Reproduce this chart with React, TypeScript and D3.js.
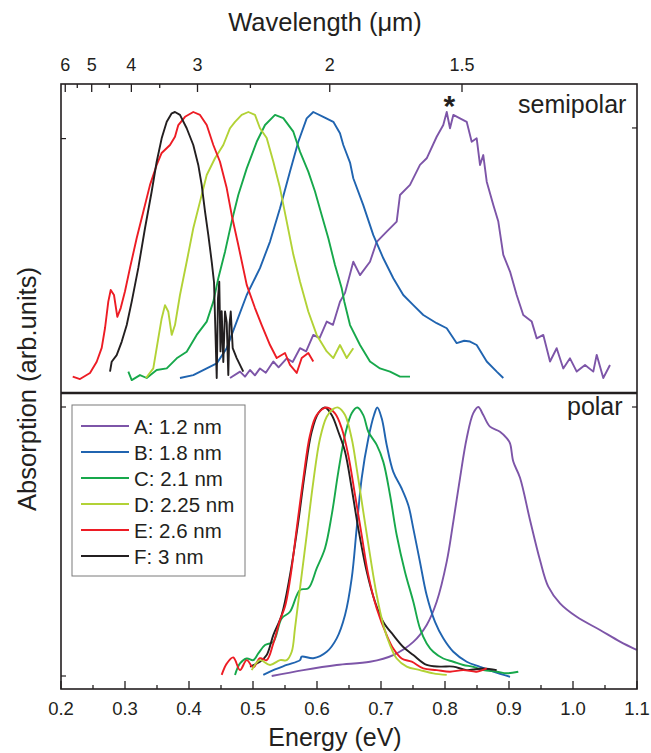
import React from "react";
import * as d3 from "d3";

// ---------- data ----------
const seriesNames = ["A: 1.2 nm", "B: 1.8 nm", "C: 2.1 nm", "D: 2.25 nm", "E: 2.6 nm", "F: 3 nm"];
const seriesColors = ["#7D55A8", "#2064B0", "#17A84B", "#B2D236", "#ED1C24", "#231F20"];

const energyTicks = [0.2, 0.3, 0.4, 0.5, 0.6, 0.7, 0.8, 0.9, 1.0, 1.1];
const energyMinorTicks = [0.25, 0.35, 0.45, 0.55, 0.65, 0.75, 0.85, 0.95, 1.05];
const wavelengthTicks = [6, 5, 4, 3, 2, 1.5];
const wavelengthMinorTicks = [5.5, 4.5, 3.5, 2.5];
const hcOverE = 1.23984; // eV·µm

// semipolar (top panel) [energy eV, normalized absorption]
const semiA: [number, number][] = [
  [0.4641, 0.0], [0.4797, 0.024], [0.4875, 0.005], [0.4953, 0.03], [0.503, 0.01], [0.5109, 0.036], [0.52, 0.02], [0.5317, 0.062],
  [0.54, 0.04], [0.5527, 0.074], [0.562, 0.06], [0.5734, 0.112], [0.583, 0.1], [0.5942, 0.162], [0.604, 0.15],
  [0.6152, 0.212], [0.625, 0.2], [0.6359, 0.287], [0.6438, 0.32], [0.6567, 0.437], [0.6672, 0.387],
  [0.6828, 0.437], [0.6933, 0.512], [0.7089, 0.55], [0.7245, 0.588], [0.7297, 0.688], [0.7453, 0.726],
  [0.7609, 0.801], [0.7714, 0.826], [0.787, 0.907], [0.7973, 0.951], [0.8027, 1.0], [0.8078, 0.939],
  [0.813, 0.989], [0.8234, 0.976], [0.8339, 0.963], [0.8417, 0.888], [0.8495, 0.901], [0.8547, 0.801],
  [0.8598, 0.838], [0.8652, 0.738], [0.8755, 0.65], [0.8833, 0.588], [0.8911, 0.463], [0.9016, 0.4],
  [0.912, 0.312], [0.9223, 0.237], [0.9355, 0.212], [0.9433, 0.149], [0.9536, 0.162], [0.9641, 0.062],
  [0.9745, 0.112], [0.9848, 0.036], [0.9953, 0.074], [1.0058, 0.024], [1.0188, 0.049], [1.0317, 0.024],
  [1.037, 0.087], [1.0473, 0.0], [1.0578, 0.049],
];
const semiB: [number, number][] = [
  [0.3859, 0.0], [0.4067, 0.011], [0.4277, 0.036], [0.4433, 0.055], [0.4589, 0.112], [0.4745, 0.212],
  [0.4902, 0.312], [0.5109, 0.413], [0.5266, 0.513], [0.5422, 0.638], [0.5578, 0.776], [0.5708, 0.888],
  [0.5839, 0.976], [0.5942, 1.0], [0.6098, 0.982], [0.6255, 0.963], [0.6359, 0.92], [0.6411, 0.876],
  [0.6516, 0.81], [0.6567, 0.751], [0.6723, 0.65], [0.688, 0.537], [0.7036, 0.45], [0.7192, 0.375],
  [0.7348, 0.312], [0.7505, 0.274], [0.7661, 0.237], [0.787, 0.206], [0.8027, 0.187], [0.8183, 0.131],
  [0.83, 0.14], [0.8391, 0.137], [0.8495, 0.124], [0.8652, 0.062], [0.8808, 0.024], [0.8911, 0.0],
];
const semiC: [number, number][] = [
  [0.3052, 0.024], [0.3105, -0.008], [0.3234, 0.011], [0.3339, 0.0], [0.3495, 0.03], [0.3652, 0.036],
  [0.3808, 0.074], [0.3964, 0.099], [0.412, 0.162], [0.4277, 0.212], [0.438, 0.287], [0.4458, 0.375],
  [0.4563, 0.475], [0.4667, 0.588], [0.477, 0.688], [0.4902, 0.788], [0.5058, 0.888], [0.5188, 0.951],
  [0.5344, 0.989], [0.5473, 0.977], [0.563, 0.926], [0.5734, 0.851], [0.5864, 0.776], [0.5969, 0.701],
  [0.6073, 0.613], [0.6177, 0.525], [0.6281, 0.425], [0.6386, 0.337], [0.6427, 0.287], [0.6516, 0.199],
  [0.6672, 0.124], [0.6828, 0.062], [0.6984, 0.036], [0.7141, 0.024], [0.7297, 0.005], [0.7453, 0.005],
];
const semiD: [number, number][] = [
  [0.3328, 0.0], [0.3442, 0.036], [0.352, 0.149], [0.3573, 0.224], [0.3625, 0.274], [0.3677, 0.249],
  [0.373, 0.162], [0.3781, 0.199], [0.3859, 0.312], [0.3964, 0.437], [0.4067, 0.563], [0.4172, 0.663],
  [0.4277, 0.763], [0.4406, 0.826], [0.4536, 0.876], [0.4641, 0.939], [0.4719, 0.963], [0.4823, 0.989],
  [0.4927, 1.0], [0.5031, 0.989], [0.5109, 0.939], [0.5214, 0.902], [0.5317, 0.814], [0.5422, 0.714],
  [0.5527, 0.588], [0.563, 0.464], [0.5734, 0.363], [0.5864, 0.25], [0.5995, 0.162], [0.6152, 0.1],
  [0.6255, 0.075], [0.6359, 0.124], [0.6464, 0.075], [0.6567, 0.112],
];
const semiE: [number, number][] = [
  [0.2183, 0.005], [0.2297, -0.004], [0.2453, 0.019], [0.2558, 0.061], [0.2636, 0.113], [0.2688, 0.188],
  [0.2739, 0.287], [0.2777, 0.331], [0.2828, 0.312], [0.288, 0.23], [0.2933, 0.263], [0.3, 0.326],
  [0.3078, 0.414], [0.3183, 0.526], [0.3286, 0.625], [0.3391, 0.726], [0.3495, 0.801], [0.3573, 0.846],
  [0.3703, 0.876], [0.3781, 0.907], [0.3833, 0.951], [0.3938, 0.982], [0.4067, 1.0], [0.4172, 0.989],
  [0.4277, 0.951], [0.438, 0.876], [0.4484, 0.813], [0.4589, 0.714], [0.4667, 0.613], [0.477, 0.5],
  [0.4902, 0.35], [0.5031, 0.263], [0.5136, 0.199], [0.5266, 0.124], [0.537, 0.075], [0.55, 0.094],
  [0.5578, 0.049], [0.5683, 0.019], [0.5761, 0.075], [0.5864, 0.094], [0.5942, 0.062],
];
const semiF: [number, number][] = [
  [0.2766, 0.024], [0.2792, 0.061], [0.287, 0.086], [0.2948, 0.136], [0.3027, 0.199], [0.3105, 0.287],
  [0.3208, 0.414], [0.3313, 0.564], [0.3417, 0.701], [0.3495, 0.813], [0.3573, 0.901], [0.3652, 0.963],
  [0.373, 0.995], [0.3781, 1.0], [0.3859, 0.989], [0.3964, 0.939], [0.4067, 0.876], [0.4145, 0.801],
  [0.4198, 0.726], [0.425, 0.626], [0.4302, 0.537], [0.4355, 0.437], [0.4391, 0.36], [0.4433, 0.0],
  [0.4453, 0.3], [0.4473, 0.362], [0.4492, 0.1], [0.4511, 0.251], [0.4536, 0.06], [0.4563, 0.25],
  [0.4589, 0.21], [0.4614, 0.011], [0.4633, 0.2], [0.4652, 0.25], [0.4683, 0.112], [0.4745, 0.075],
  [0.4848, 0.024],
];

// polar (bottom panel)
const polA: [number, number][] = [
  [0.5292, 0.0], [0.5786, 0.022], [0.6308, 0.041], [0.6828, 0.053], [0.7192, 0.078], [0.7505, 0.127],
  [0.7714, 0.19], [0.787, 0.276], [0.8027, 0.425], [0.813, 0.574], [0.8234, 0.735], [0.8339, 0.884],
  [0.8442, 0.977], [0.852, 1.0], [0.8598, 0.97], [0.8703, 0.927], [0.8859, 0.908], [0.8964, 0.884],
  [0.9016, 0.865], [0.9067, 0.797], [0.9172, 0.737], [0.9328, 0.58], [0.9484, 0.431], [0.9614, 0.332],
  [0.9797, 0.27], [1.0058, 0.22], [1.0422, 0.171], [1.0734, 0.128], [1.0995, 0.097],
];
const polB: [number, number][] = [
  [0.5161, 0.004], [0.5317, 0.022], [0.5527, 0.041], [0.5734, 0.059], [0.5761, 0.072], [0.5942, 0.066],
  [0.6152, 0.09], [0.6308, 0.14], [0.6438, 0.227], [0.6542, 0.363], [0.662, 0.549], [0.6698, 0.735],
  [0.6802, 0.883], [0.6891, 0.97], [0.6942, 0.998], [0.7011, 0.958], [0.7089, 0.859], [0.7192, 0.759],
  [0.7323, 0.697], [0.7427, 0.635], [0.7505, 0.548], [0.7609, 0.424], [0.7714, 0.3], [0.7844, 0.201],
  [0.7973, 0.14], [0.813, 0.09], [0.8339, 0.053], [0.8547, 0.034], [0.8755, 0.016], [0.9016, -0.003],
];
const polC: [number, number][] = [
  [0.4719, 0.004], [0.4797, 0.047], [0.4902, 0.065], [0.5005, 0.059], [0.5083, 0.084], [0.5188, 0.115],
  [0.5317, 0.127], [0.5448, 0.214], [0.5578, 0.239], [0.5734, 0.32], [0.5864, 0.326], [0.5995, 0.4],
  [0.6125, 0.475], [0.623, 0.599], [0.6333, 0.759], [0.6438, 0.896], [0.6542, 0.977], [0.663, 0.998],
  [0.6723, 0.97], [0.6802, 0.908], [0.6933, 0.859], [0.7036, 0.796], [0.7141, 0.673], [0.7245, 0.524],
  [0.7375, 0.387], [0.7505, 0.276], [0.7609, 0.177], [0.7714, 0.121], [0.7817, 0.09], [0.7973, 0.065],
  [0.813, 0.053], [0.8286, 0.041], [0.8442, 0.034], [0.8598, 0.022], [0.8808, 0.016], [0.8964, 0.01],
  [0.9145, 0.016],
];
const polD: [number, number][] = [
  [0.498, 0.022], [0.5109, 0.059], [0.5266, 0.041], [0.5422, 0.059], [0.5527, 0.059], [0.5605, 0.09],
  [0.5656, 0.177], [0.5734, 0.326], [0.5839, 0.524], [0.5942, 0.722], [0.6047, 0.883], [0.6152, 0.964],
  [0.6255, 0.993], [0.6333, 0.998], [0.6438, 0.97], [0.6542, 0.883], [0.662, 0.772], [0.6723, 0.611],
  [0.6828, 0.45], [0.6933, 0.301], [0.7036, 0.19], [0.7141, 0.115], [0.7245, 0.065], [0.7402, 0.035],
  [0.7609, 0.022], [0.7817, 0.01], [0.8027, 0.004],
];
const polE: [number, number][] = [
  [0.4511, 0.004], [0.4589, 0.046], [0.4692, 0.069], [0.4797, 0.022], [0.4902, 0.059], [0.5005, 0.032],
  [0.5109, 0.066], [0.5214, 0.059], [0.5317, 0.121], [0.5422, 0.208], [0.55, 0.258], [0.5578, 0.357],
  [0.5683, 0.548], [0.5786, 0.734], [0.5891, 0.896], [0.5995, 0.97], [0.6152, 0.998], [0.6281, 0.976],
  [0.6386, 0.921], [0.6489, 0.821], [0.6594, 0.673], [0.6698, 0.524], [0.6802, 0.375], [0.6933, 0.251],
  [0.7089, 0.152], [0.7192, 0.102], [0.7323, 0.065], [0.748, 0.053], [0.7661, 0.028], [0.787, 0.022],
  [0.8078, 0.016], [0.8286, 0.022], [0.8495, 0.016], [0.8652, 0.028],
];
const polF: [number, number][] = [
  [0.4953, 0.035], [0.5109, 0.053], [0.5214, 0.078], [0.5317, 0.152], [0.5448, 0.227], [0.5578, 0.375],
  [0.5708, 0.574], [0.5813, 0.76], [0.5917, 0.908], [0.602, 0.977], [0.6125, 0.998], [0.623, 0.97],
  [0.6333, 0.908], [0.6438, 0.834], [0.6542, 0.698], [0.6645, 0.549], [0.6777, 0.388], [0.6906, 0.276],
  [0.7036, 0.201], [0.7192, 0.152], [0.7348, 0.108], [0.7505, 0.078], [0.7714, 0.041], [0.7922, 0.035],
  [0.813, 0.035], [0.8339, 0.022], [0.8598, 0.028], [0.8808, 0.022],
];

const semipolarSeries = [semiA, semiB, semiC, semiD, semiE, semiF];
const polarSeries = [polA, polB, polC, polD, polE, polF];
const polarDrawOrder = [0, 1, 2, 5, 4, 3];

const topLeftTicks = [0.9];
const topRightTicks = [0.94];
const bottomLeftTicks = [0, 1];
const bottomRightTicks = [1];

// ---------- layout ----------
const W = 651, H = 753;
const X0 = 61, X1 = 637;
const Y0 = 84, YMID = 393, Y1 = 689;
const FONT = "'Liberation Sans', Arial, Helvetica, sans-serif";
const FRAME = "#231F20";

export default function App() {
  const x = d3.scaleLinear().domain([0.2, 1.1]).range([X0, X1]);
  const yTop = d3.scaleLinear().domain([0, 1]).range([378, 112]);
  const yBot = d3.scaleLinear().domain([0, 1]).range([676, 407]);

  const lineTop = d3.line<[number, number]>().x(d => x(d[0])).y(d => yTop(d[1])).curve(d3.curveLinear);
  const lineBot = d3.line<[number, number]>().x(d => x(d[0])).y(d => yBot(d[1])).curve(d3.curveCatmullRom.alpha(0.5));

  return (
    <svg width={W} height={H} style={{ position: "absolute", left: 0, top: 0, background: "#fff" }} fontFamily={FONT}>
      <rect x={0} y={0} width={W} height={H} fill="#fff" />
      {/* curves */}
      <g fill="none" strokeWidth={1.9} strokeLinejoin="round">
        {semipolarSeries.map((s, i) => (
          <path key={"t" + i} d={lineTop(s) || ""} stroke={seriesColors[i]} />
        ))}
        {polarDrawOrder.map(i => (
          <path key={"b" + i} d={lineBot(polarSeries[i]) || ""} stroke={seriesColors[i]} />
        ))}
      </g>

      {/* frame */}
      <rect x={X0} y={Y0} width={X1 - X0} height={Y1 - Y0} fill="none" stroke={FRAME} strokeWidth={1.6} />
      <line x1={X0} x2={X1} y1={YMID} y2={YMID} stroke={FRAME} strokeWidth={2.4} />

      {/* bottom axis */}
      {energyTicks.map(t => (
        <g key={"et" + t}>
          <line x1={x(t)} x2={x(t)} y1={Y1} y2={Y1 - 8} stroke={FRAME} strokeWidth={1.3} />
          <text x={x(t)} y={715} fontSize={18.5} textAnchor="middle" fill="#231F20">{t.toFixed(1)}</text>
        </g>
      ))}
      {energyMinorTicks.map(t => (
        <line key={"em" + t} x1={x(t)} x2={x(t)} y1={Y1} y2={Y1 - 4} stroke={FRAME} strokeWidth={1.3} />
      ))}

      {/* top axis */}
      {wavelengthTicks.map(w => (
        <g key={"wt" + w}>
          <line x1={x(hcOverE / w)} x2={x(hcOverE / w)} y1={Y0} y2={Y0 + 8} stroke={FRAME} strokeWidth={1.3} />
          <text x={x(hcOverE / w)} y={71} fontSize={18} textAnchor="middle" fill="#231F20">{String(w)}</text>
        </g>
      ))}
      {wavelengthMinorTicks.map(w => (
        <line key={"wm" + w} x1={x(hcOverE / w)} x2={x(hcOverE / w)} y1={Y0} y2={Y0 + 4} stroke={FRAME} strokeWidth={1.3} />
      ))}

      {/* y ticks */}
      {topLeftTicks.map(v => <line key={"tl" + v} x1={X0} x2={X0 + 5} y1={yTop(v)} y2={yTop(v)} stroke={FRAME} strokeWidth={1.2} />)}
      {topRightTicks.map(v => <line key={"tr" + v} x1={X1} x2={X1 - 5} y1={yTop(v)} y2={yTop(v)} stroke={FRAME} strokeWidth={1.2} />)}
      {bottomLeftTicks.map(v => <line key={"bl" + v} x1={X0} x2={X0 + 5} y1={yBot(v)} y2={yBot(v)} stroke={FRAME} strokeWidth={1.2} />)}
      {bottomRightTicks.map(v => <line key={"br" + v} x1={X1} x2={X1 - 5} y1={yBot(v)} y2={yBot(v)} stroke={FRAME} strokeWidth={1.2} />)}

      {/* titles */}
      <text x={325} y={31} fontSize={25.5} textAnchor="middle" fill="#231F20">Wavelength (μm)</text>
      <text x={335} y={746} fontSize={25} textAnchor="middle" fill="#231F20">Energy (eV)</text>
      <text transform="translate(36,389) rotate(-90)" fontSize={25.5} textAnchor="middle" fill="#231F20">Absorption (arb.units)</text>

      {/* panel labels */}
      <text x={518} y={113} fontSize={25} fill="#231F20">semipolar</text>
      <text x={567} y={415} fontSize={25} fill="#231F20">polar</text>
      <text x={x(0.8066)} y={116} fontSize={30} fontWeight="bold" textAnchor="middle" fill="#231F20">*</text>

      {/* legend */}
      <rect x={72} y={405} width={173} height={171} fill="#fff" stroke="#7a7a7a" strokeWidth={1} />
      {seriesNames.map((name, i) => (
        <g key={"lg" + i}>
          <line x1={81} x2={129} y1={426 + i * 26} y2={426 + i * 26} stroke={seriesColors[i]} strokeWidth={2} />
          <text x={134} y={426 + i * 26 + 7.5} fontSize={20.5} fill="#231F20">{name}</text>
        </g>
      ))}
    </svg>
  );
}
